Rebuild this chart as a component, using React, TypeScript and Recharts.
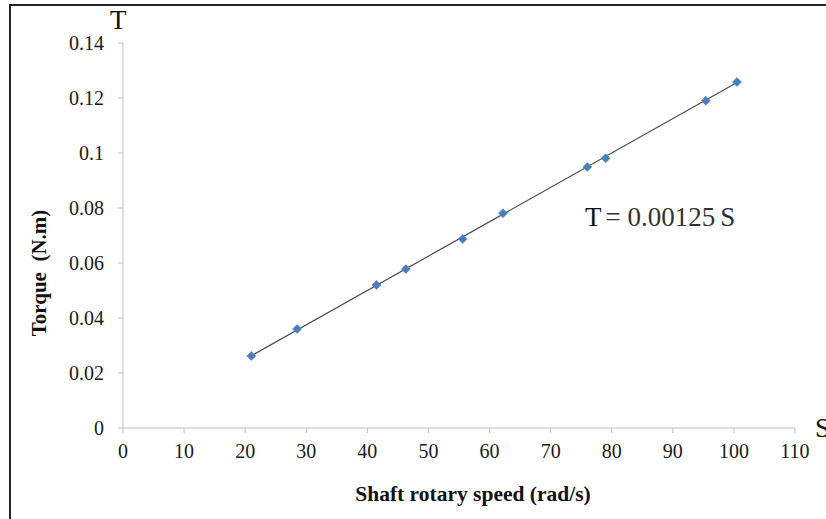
import React from 'react';
import { ScatterChart, Scatter, XAxis, YAxis, ReferenceLine, Label } from 'recharts';

// Measured shaft speed (rad/s) and torque (N.m)
const speeds = [21, 28.5, 41.5, 46.3, 55.6, 62.2, 76, 79, 95.4, 100.5];
const torques = [0.0262, 0.036, 0.052, 0.0578, 0.0687, 0.0781, 0.0949, 0.0981, 0.119, 0.1258];

const xTicks = [0, 10, 20, 30, 40, 50, 60, 70, 80, 90, 100, 110];
const yTicks = [0, 0.02, 0.04, 0.06, 0.08, 0.1, 0.12, 0.14];

// Linear fit through the origin: T = k * S
const slope = 0.00125;
const equationText = ['T', '= 0.00125', 'S'];

const points = speeds.map((s, i) => ({ s, t: torques[i] }));
const fitStart = { x: speeds[0], y: slope * speeds[0] };
const fitEnd = { x: speeds[speeds.length - 1], y: slope * speeds[speeds.length - 1] };

const SERIF = '"Liberation Serif", "Times New Roman", serif';
const AXIS_GRAY = '#bfbfbf';
const MARKER = '#4a7ebb';

const Diamond = (props: any) => {
  const { cx, cy } = props;
  if (cx == null || cy == null) return null;
  const r = 4.5;
  return (
    <polygon
      points={`${cx},${cy - r} ${cx + r},${cy} ${cx},${cy + r} ${cx - r},${cy}`}
      fill={MARKER}
      stroke={MARKER}
      strokeWidth={0.5}
    />
  );
};

export default function App() {
  return (
    <div style={{ position: 'absolute', left: 0, top: 0, width: 826, height: 519, background: '#fff', overflow: 'hidden' }}>
      <div
        style={{
          position: 'absolute',
          left: 9,
          top: 4,
          width: 900,
          height: 600,
          borderTop: '2px solid #262626',
          borderLeft: '2px solid #262626',
        }}
      />
      <ScatterChart
        width={826}
        height={519}
        margin={{ top: 43, right: 31, bottom: 0, left: 0 }}
        style={{ position: 'absolute', left: 0, top: 0 }}
      >
        <XAxis
          type="number"
          dataKey="s"
          domain={[0, 110]}
          ticks={xTicks}
          interval={0}
          height={91}
          stroke={AXIS_GRAY}
          tickSize={5}
          tickMargin={11}
          tick={{ fill: '#1a1a1a', fontSize: 20, fontFamily: SERIF }}
        >
          <Label
            content={() => (
              <text x={473} y={501} textAnchor="middle" fontFamily={SERIF} fontWeight="bold" fontSize={21.5} fill="#111">
                Shaft rotary speed (rad/s)
              </text>
            )}
          />
        </XAxis>
        <YAxis
          type="number"
          dataKey="t"
          domain={[0, 0.14]}
          ticks={yTicks}
          interval={0}
          width={123}
          stroke={AXIS_GRAY}
          tickSize={5}
          tickMargin={14}
          tick={{ fill: '#1a1a1a', fontSize: 20, fontFamily: SERIF }}
        >
          <Label
            content={() => (
              <text
                x={46}
                y={273}
                transform="rotate(-90 46 273)"
                textAnchor="middle"
                fontFamily={SERIF}
                fontWeight="bold"
                fontSize={21}
                fill="#111"
              >
                {'Torque\u00a0\u00a0(N.m)'}
              </text>
            )}
          />
        </YAxis>
        <ReferenceLine
          segment={[fitStart, fitEnd]}
          stroke="#4d4d4d"
          strokeWidth={1.2}
          ifOverflow="visible"
        />
        <Scatter data={points} shape={<Diamond />} isAnimationActive={false} />
        <text x={110} y={29} fontFamily={SERIF} fontSize={27} fill="#111">T</text>
        <text x={815} y={437} fontFamily={SERIF} fontSize={27} fill="#111">S</text>
        <text x={585} y={226} fontFamily={SERIF} fontSize={27}>
          <tspan fill="#111">{equationText[0]}</tspan>
          <tspan fill="#333" dx={4}>{equationText[1]}</tspan>
          <tspan fill="#1f2d4d" dx={5}>{equationText[2]}</tspan>
        </text>
      </ScatterChart>
    </div>
  );
}
